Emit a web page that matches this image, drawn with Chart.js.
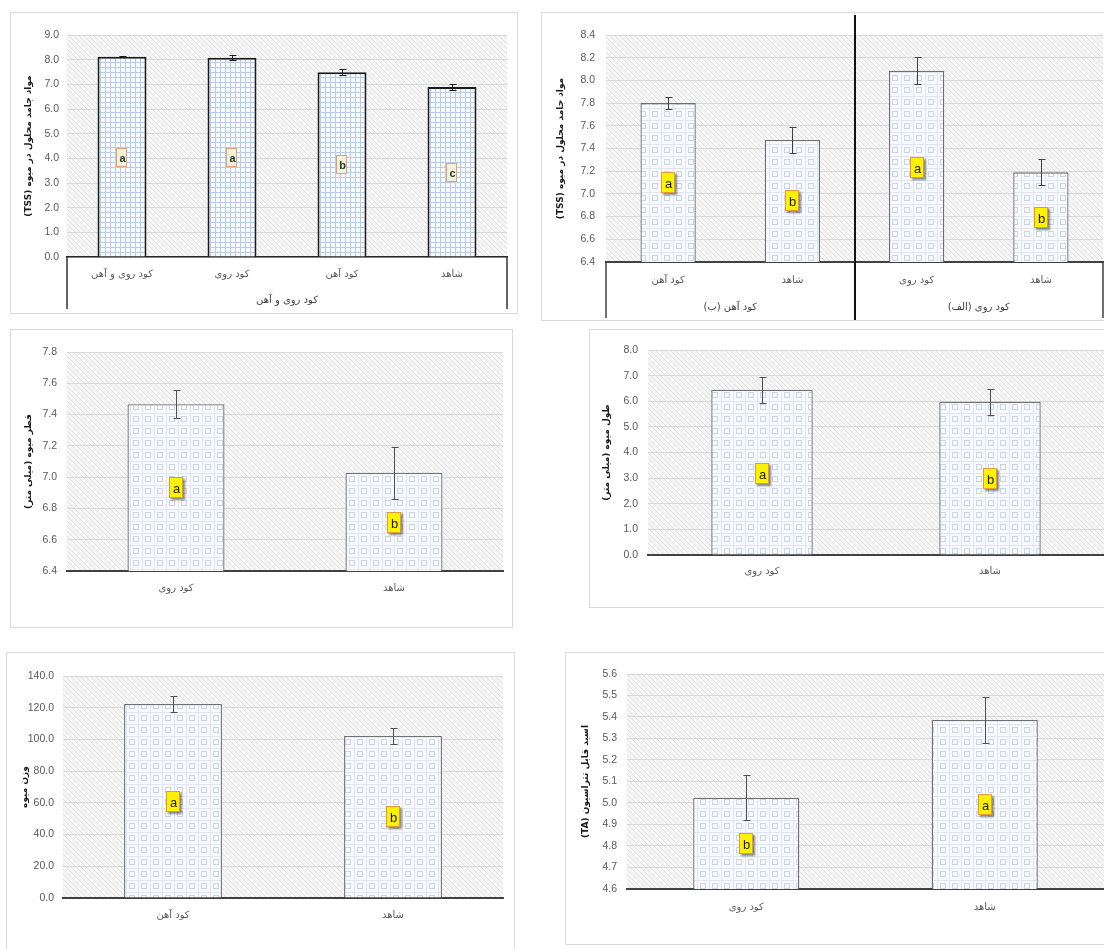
<!DOCTYPE html>
<html>
<head>
<meta charset="utf-8">
<script src="https://cdn.jsdelivr.net/npm/chart.js@4.4.1/dist/chart.umd.min.js"></script>
<style>
  html, body { margin: 0; padding: 0; background: #fff; }
  body { width: 1104px; height: 949px; overflow: hidden; position: relative; }
  .panel { position: absolute; }
  .panel canvas { position: absolute; left: 0; top: 0; }
  .frame { position: absolute; left: 0; top: 0; right: 0; bottom: 0; border: 1px solid #d9d9d9; box-sizing: border-box; pointer-events: none; }
</style>
</head>
<body>
<div id="p1" class="panel"><canvas dir="rtl"></canvas><div class="frame"></div></div>
<div id="p2" class="panel"><canvas dir="rtl"></canvas><div class="frame"></div></div>
<div id="p3" class="panel"><canvas dir="rtl"></canvas><div class="frame"></div></div>
<div id="p4" class="panel"><canvas dir="rtl"></canvas><div class="frame"></div></div>
<div id="p5" class="panel"><canvas dir="rtl"></canvas><div class="frame"></div></div>
<div id="p6" class="panel"><canvas dir="rtl"></canvas><div class="frame"></div></div>
<script>
// TSS, zinc + iron combined
const tssAllCats = ['کود روی و آهن', 'کود روی', 'کود آهن', 'شاهد'];
const tssAllValues = [8.12, 8.08, 7.49, 6.89];
const tssAllErrors = [0.02, 0.10, 0.12, 0.12];
const tssAllLetters = ['a', 'a', 'b', 'c'];
const tssAllLetterY = [4.03, 4.03, 3.74, 3.42];
const tssAllGroups = ['کود روی و آهن'];
const tssAllGroupSizes = [4];

// TSS, iron (b) and zinc (alef) separately
const tssSplitCats = ['کود آهن', 'شاهد', 'کود روی', 'شاهد'];
const tssSplitValues = [7.80, 7.475, 8.085, 7.19];
const tssSplitErrors = [0.055, 0.115, 0.12, 0.115];
const tssSplitLetters = ['a', 'b', 'a', 'b'];
const tssSplitLetterY = [7.10, 6.935, 7.23, 6.79];
const tssSplitGroups = ['کود آهن (ب)', 'کود روی (الف)'];
const tssSplitGroupSizes = [2, 2];

// fruit diameter
const diamCats = ['کود روی', 'شاهد'];
const diamValues = [7.466, 7.028];
const diamErrors = [0.09, 0.165];
const diamLetters = ['a', 'b'];
const diamLetterY = [6.93, 6.71];

// fruit length
const lenCats = ['کود روی', 'شاهد'];
const lenValues = [6.45, 5.98];
const lenErrors = [0.51, 0.50];
const lenLetters = ['a', 'b'];
const lenLetterY = [3.18, 2.97];

// fruit weight
const weightCats = ['کود آهن', 'شاهد'];
const weightValues = [122.3, 102.2];
const weightErrors = [5.0, 5.0];
const weightLetters = ['a', 'b'];
const weightLetterY = [60.6, 50.8];

// titratable acidity
const taCats = ['کود روی', 'شاهد'];
const taValues = [5.025, 5.386];
const taErrors = [0.105, 0.105];
const taLetters = ['b', 'a'];
const taLetterY = [4.81, 4.99];

const FONT_AR = "'DejaVu Sans', sans-serif";
const FONT_NUM = "'Liberation Sans', Arial, sans-serif";

const makeTile = (size, draw) => {
  const c = document.createElement('canvas');
  c.width = size;
  c.height = size;
  draw(c.getContext('2d'), size);
  return c;
};

const hatchTile = makeTile(5, (g, n) => {
  g.fillStyle = '#f6f6f6';
  g.fillRect(0, 0, n, n);
  g.fillStyle = '#e0e0e0';
  for (let i = 0; i < n; i++) g.fillRect(i, i, 1, 1);
});

const fineGridTile = makeTile(5, (g, n) => {
  g.fillStyle = '#f6f9fe';
  g.fillRect(0, 0, n, n);
  g.fillStyle = '#b9cce6';
  g.fillRect(0, 0, n, 1);
  g.fillRect(0, 0, 1, n);
});

const squareTile = makeTile(12, (g, n) => {
  g.fillStyle = '#f8fafd';
  g.fillRect(0, 0, n, n);
  g.fillStyle = '#e0e6f1';
  g.fillRect(0, 0, n, 1);
  g.fillRect(0, 0, 1, n);
  g.strokeStyle = '#c9d4e8';
  g.lineWidth = 1;
  g.strokeRect(3.5, 3.5, 5, 5);
});

const plainLetter = { w: 11, h: 19, fill: '#f1f1de', stroke: '#e2a26c', color: '#223a22', font: "bold 11px " + FONT_NUM, shadow: false };
const yellowLetter = { w: 14, h: 21, fill: '#fff200', stroke: '#e59a35', color: '#1a1a1a', font: "13px " + FONT_NUM, shadow: true };

const plotBackground = {
  id: 'plotBackground',
  beforeDraw(chart, args, opts) {
    const { ctx, chartArea: { left, top, width, height } } = chart;
    ctx.save();
    ctx.fillStyle = opts.pattern;
    ctx.fillRect(left, top, width, height);
    ctx.restore();
  },
};

const errorBars = {
  id: 'errorBars',
  afterDatasetsDraw(chart, args, opts) {
    const { ctx, scales: { y } } = chart;
    const meta = chart.getDatasetMeta(0);
    const values = chart.data.datasets[0].data;
    ctx.save();
    ctx.strokeStyle = opts.color;
    ctx.lineWidth = 1;
    meta.data.forEach((bar, i) => {
      const x = Math.round(bar.x) + 0.5;
      const hi = Math.round(y.getPixelForValue(values[i] + opts.errors[i])) + 0.5;
      const lo = Math.round(y.getPixelForValue(values[i] - opts.errors[i])) + 0.5;
      ctx.beginPath();
      ctx.moveTo(x, hi);
      ctx.lineTo(x, lo);
      ctx.moveTo(x - 3, hi);
      ctx.lineTo(x + 4, hi);
      ctx.moveTo(x - 3, lo);
      ctx.lineTo(x + 4, lo);
      ctx.stroke();
    });
    ctx.restore();
  },
};

const letterBoxes = {
  id: 'letterBoxes',
  afterDatasetsDraw(chart, args, opts) {
    const { ctx, scales: { y } } = chart;
    const meta = chart.getDatasetMeta(0);
    const s = opts.style;
    meta.data.forEach((bar, i) => {
      const cx = Math.round(bar.x);
      const cy = Math.round(y.getPixelForValue(opts.positions[i]));
      const x0 = cx - Math.round(s.w / 2);
      const y0 = cy - Math.round(s.h / 2);
      ctx.save();
      if (s.shadow) {
        ctx.shadowColor = 'rgba(0,0,0,0.45)';
        ctx.shadowOffsetX = 2;
        ctx.shadowOffsetY = 2;
        ctx.shadowBlur = 2;
      }
      ctx.fillStyle = s.fill;
      ctx.fillRect(x0, y0, s.w, s.h);
      ctx.restore();
      ctx.save();
      ctx.strokeStyle = s.stroke;
      ctx.lineWidth = 1;
      ctx.strokeRect(x0 + 0.5, y0 + 0.5, s.w - 1, s.h - 1);
      ctx.fillStyle = s.color;
      ctx.font = s.font;
      ctx.textAlign = 'center';
      ctx.textBaseline = 'middle';
      ctx.fillText(opts.letters[i], cx + 0.5, cy + 1);
      ctx.restore();
    });
  },
};

// Excel style multi-level category box under the x axis
const categoryTable = {
  id: 'categoryTable',
  afterDraw(chart, args, opts) {
    const { ctx, chartArea: { left, right, bottom }, height } = chart;
    const meta = chart.getDatasetMeta(0);
    const n = meta.data.length;
    ctx.save();
    ctx.strokeStyle = opts.lineColor;
    ctx.lineWidth = 1.5;
    [left, right].forEach((x) => {
      ctx.beginPath();
      ctx.moveTo(x, bottom);
      ctx.lineTo(x, opts.lineEnd);
      ctx.stroke();
    });
    ctx.fillStyle = '#404040';
    ctx.font = '10px ' + FONT_AR;
    ctx.textAlign = 'center';
    ctx.textBaseline = 'middle';
    let start = 0;
    opts.groups.forEach((label, g) => {
      const end = start + opts.sizes[g] - 1;
      const x0 = start === 0 ? left : (meta.data[start - 1].x + meta.data[start].x) / 2;
      const x1 = end === n - 1 ? right : (meta.data[end].x + meta.data[end + 1].x) / 2;
      ctx.fillText(label, (x0 + x1) / 2, opts.labelY);
      if (end < n - 1) {
        ctx.save();
        ctx.strokeStyle = '#111';
        ctx.lineWidth = 2;
        ctx.beginPath();
        ctx.moveTo(Math.round(x1), opts.dividerTop);
        ctx.lineTo(Math.round(x1), height);
        ctx.stroke();
        ctx.restore();
      }
      start = end + 1;
    });
    ctx.restore();
  },
};

const panels = [
  {
    id: 'p1', box: [10, 12, 508, 302], plot: [67, 35, 507, 257],
    labels: tssAllCats, values: tssAllValues, errors: tssAllErrors,
    letters: tssAllLetters, letterY: tssAllLetterY, letterStyle: plainLetter,
    yMin: 0, yMax: 9, step: 1, title: 'مواد جامد محلول در میوه (TSS)',
    titlePad: 13, tickPad: 8, xPad: 11,
    fill: fineGridTile, barBorder: '#1a1a1a', barBorderWidth: 2,
    axisColor: '#262626', axisWidth: 1.5, errColor: '#1a1a1a',
    table: { groups: tssAllGroups, sizes: tssAllGroupSizes, labelY: 288, lineEnd: 297, dividerTop: 3, lineColor: '#333' },
  },
  {
    id: 'p2', box: [541, 12, 575, 309], plot: [606, 35, 1103, 262],
    labels: tssSplitCats, values: tssSplitValues, errors: tssSplitErrors,
    letters: tssSplitLetters, letterY: tssSplitLetterY, letterStyle: yellowLetter,
    yMin: 6.4, yMax: 8.4, step: 0.2, title: 'مواد جامد محلول در میوه (TSS)',
    titlePad: 14, tickPad: 11, xPad: 12,
    fill: squareTile, barBorder: '#6f6f6f', barBorderWidth: 1.3,
    axisColor: '#404040', axisWidth: 2, errColor: '#404040',
    table: { groups: tssSplitGroups, sizes: tssSplitGroupSizes, labelY: 295, lineEnd: 306, dividerTop: 3, lineColor: '#404040' },
  },
  {
    id: 'p3', box: [10, 329, 503, 299], plot: [67, 352, 503, 571],
    labels: diamCats, values: diamValues, errors: diamErrors,
    letters: diamLetters, letterY: diamLetterY, letterStyle: yellowLetter,
    yMin: 6.4, yMax: 7.8, step: 0.2, title: 'قطر میوه (میلی متر)',
    titlePad: 13, tickPad: 10, xPad: 11,
    fill: squareTile, barBorder: '#6f6f6f', barBorderWidth: 1.3,
    axisColor: '#404040', axisWidth: 2, errColor: '#505050',
  },
  {
    id: 'p4', box: [589, 329, 530, 279], plot: [648, 350, 1104, 555],
    labels: lenCats, values: lenValues, errors: lenErrors,
    letters: lenLetters, letterY: lenLetterY, letterStyle: yellowLetter,
    yMin: 0, yMax: 8, step: 1, title: 'طول میوه (میلی متر)',
    titlePad: 12, tickPad: 10, xPad: 10,
    fill: squareTile, barBorder: '#6f6f6f', barBorderWidth: 1.3,
    axisColor: '#404040', axisWidth: 2, errColor: '#505050',
  },
  {
    id: 'p5', box: [6, 652, 509, 310], plot: [63, 676, 503, 898],
    labels: weightCats, values: weightValues, errors: weightErrors,
    letters: weightLetters, letterY: weightLetterY, letterStyle: yellowLetter,
    yMin: 0, yMax: 140, step: 20, title: 'وزن میوه',
    titlePad: 13, tickPad: 9, xPad: 11,
    fill: squareTile, barBorder: '#6f6f6f', barBorderWidth: 1.3,
    axisColor: '#404040', axisWidth: 2, errColor: '#505050',
  },
  {
    id: 'p6', box: [565, 652, 550, 293], plot: [627, 674, 1104, 889],
    labels: taCats, values: taValues, errors: taErrors,
    letters: taLetters, letterY: taLetterY, letterStyle: yellowLetter,
    yMin: 4.6, yMax: 5.6, step: 0.1, title: 'اسید قابل تتراسیون (TA)',
    titlePad: 15, tickPad: 10, xPad: 12,
    fill: squareTile, barBorder: '#6f6f6f', barBorderWidth: 1.3,
    axisColor: '#404040', axisWidth: 2, errColor: '#505050',
  },
];

const drawPanel = (p) => {
  const [bx, by, w, h] = p.box;
  const [L, T, R, B] = p.plot;
  const wrap = document.getElementById(p.id);
  Object.assign(wrap.style, { left: bx + 'px', top: by + 'px', width: w + 'px', height: h + 'px' });
  const canvas = wrap.querySelector('canvas');
  canvas.width = w;
  canvas.height = h;
  canvas.style.width = w + 'px';
  canvas.style.height = h + 'px';
  const ctx = canvas.getContext('2d');
  const plotLeft = L - bx;
  const plotTop = T - by;
  const plotRight = R - bx;
  const plotBottom = B - by;

  return new Chart(canvas, {
    type: 'bar',
    data: {
      labels: p.labels,
      datasets: [
        {
          data: p.values,
          backgroundColor: ctx.createPattern(p.fill, 'repeat'),
          borderColor: p.barBorder,
          borderWidth: p.barBorderWidth,
          barPercentage: 0.445,
          categoryPercentage: 1,
        },
      ],
    },
    options: {
      responsive: false,
      animation: false,
      devicePixelRatio: 1,
      layout: {
        padding: { left: 0, top: plotTop, right: w - plotRight, bottom: 0 },
      },
      plugins: {
        legend: { display: false },
        tooltip: { enabled: false },
        plotBackground: { pattern: ctx.createPattern(hatchTile, 'repeat') },
        errorBars: { errors: p.errors, color: p.errColor },
        letterBoxes: { letters: p.letters, positions: p.letterY, style: p.letterStyle },
        categoryTable: p.table ? p.table : false,
      },
      scales: {
        x: {
          grid: { display: false, drawTicks: false },
          border: { color: p.axisColor, width: p.axisWidth },
          ticks: {
            padding: p.xPad,
            color: '#595959',
            font: { family: FONT_AR, size: 10 },
            maxRotation: 0,
          },
          afterFit(scale) {
            scale.height = h - plotBottom;
          },
        },
        y: {
          min: p.yMin,
          max: p.yMax,
          ticks: {
            stepSize: p.step,
            padding: p.tickPad,
            color: '#595959',
            font: { family: FONT_NUM, size: 10.5 },
            callback: (v) => Number(v).toFixed(1),
          },
          grid: { color: '#d9d9d9', drawTicks: false },
          border: { display: false },
          title: {
            display: true,
            text: p.title,
            color: '#1a1a1a',
            font: { family: FONT_AR, size: 9, weight: 'bold' },
            padding: { top: p.titlePad, bottom: 0 },
          },
          afterFit(scale) {
            scale.width = plotLeft;
          },
        },
      },
    },
    plugins: [plotBackground, errorBars, letterBoxes, categoryTable],
  });
};

panels.forEach(drawPanel);
</script>
</body>
</html>
